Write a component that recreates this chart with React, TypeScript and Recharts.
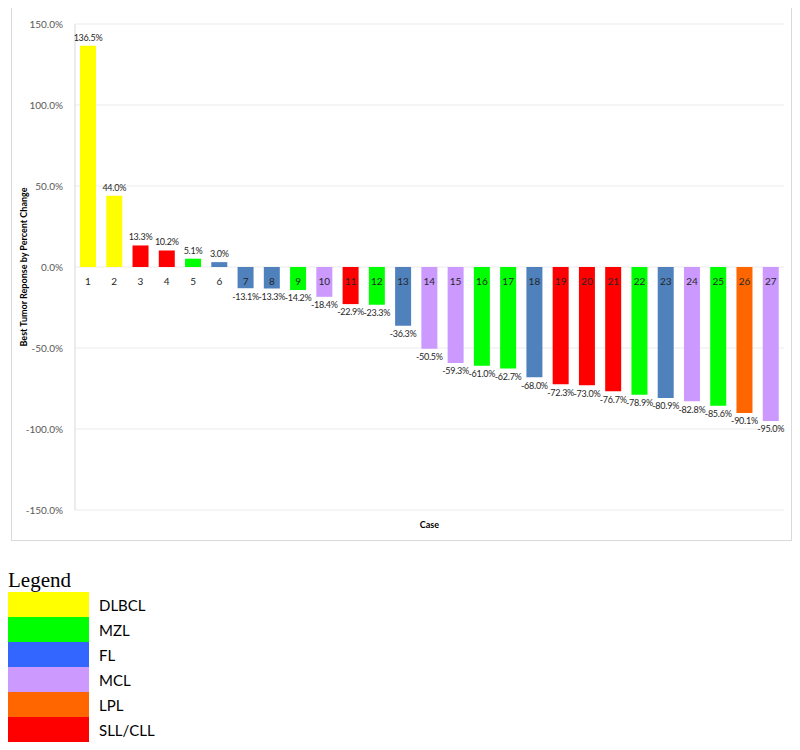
import React from 'react';
import { BarChart, Bar, XAxis, YAxis, CartesianGrid, LabelList, Cell, Label } from 'recharts';

const cases = ['1','2','3','4','5','6','7','8','9','10','11','12','13','14','15','16','17','18','19','20','21','22','23','24','25','26','27'];
const responses = [136.5, 44.0, 13.3, 10.2, 5.1, 3.0, -13.1, -13.3, -14.2, -18.4, -22.9, -23.3, -36.3, -50.5, -59.3, -61.0, -62.7, -68.0, -72.3, -73.0, -76.7, -78.9, -80.9, -82.8, -85.6, -90.1, -95.0];
const types = ['DLBCL','DLBCL','SLL/CLL','SLL/CLL','MZL','FL','FL','FL','MZL','MCL','SLL/CLL','MZL','FL','MCL','MCL','MZL','MZL','FL','SLL/CLL','SLL/CLL','SLL/CLL','MZL','FL','MCL','MZL','LPL','MCL'];
const yTicks = [150, 100, 50, 0, -50, -100, -150];

const legendTypes = ['DLBCL','MZL','FL','MCL','LPL','SLL/CLL'];
const legendColors = ['#FFFF00','#00FF00','#3366FF','#CC99FF','#FF6600','#FF0000'];
const barColors: Record<string, string> = {
  'DLBCL': '#FFFF00',
  'MZL': '#00FF00',
  'FL': '#4F81BD',
  'MCL': '#CC99FF',
  'LPL': '#FF6600',
  'SLL/CLL': '#FF0000',
};

const data = cases.map((c, i) => ({ case: c, value: responses[i], type: types[i] }));

const FONT = 'Lato, "Open Sans", sans-serif';

const CaseLabel = (props: any) => {
  const vb = props.viewBox || props;
  const { x, y, width, height } = vb;
  const idx = props.index;
  const v = responses[idx];
  const top = Math.min(y, y + height);
  const bottom = Math.max(y, y + height);
  const zero = v >= 0 ? bottom : top;
  return (
    <text x={x + width / 2} y={zero} dy={15} textAnchor="middle" dominantBaseline="middle"
      fontSize={10} fontFamily={FONT} fill="#262626">
      {cases[idx]}
    </text>
  );
};

const YTitle = (props: any) => {
  const vb = props.viewBox;
  const cx = vb.x + 13;
  const cy = vb.y + vb.height / 2;
  return (
    <text x={cx} y={cy} transform={`rotate(-90, ${cx}, ${cy})`} textAnchor="middle" dominantBaseline="middle"
      fontSize={9} fontWeight="bold" fontFamily={FONT} fill="#000">
      Best Tumor Reponse by Percent Change
    </text>
  );
};

export default function App() {
  return (
    <div style={{ position: 'relative', width: 800, height: 750, fontFamily: FONT }}>
      <div style={{ position: 'absolute', left: 3, top: -1, width: 781, height: 534, boxSizing: 'border-box', border: '1px solid #d9d9d9', background: '#fff' }}>
        <BarChart width={779} height={532} data={data} margin={{ top: 16, right: 7, left: 0, bottom: 0 }}>
          <CartesianGrid vertical={false} stroke="#ebebeb" />
          <XAxis dataKey="case" tick={false} axisLine={false} tickLine={false} height={30}>
            <Label value="Case" position="center" fontSize={9} fontWeight="bold" fontFamily={FONT} fill="#000" />
          </XAxis>
          <YAxis
            domain={[-150, 150]}
            ticks={yTicks}
            width={63}
            axisLine={{ stroke: '#d9d9d9' }}
            tickLine={false}
            tickMargin={6}
            tick={{ fontSize: 10, fill: '#595959', fontFamily: FONT }}
            tickFormatter={(v: number) => `${v.toFixed(1)}%`}
          >
            <Label content={<YTitle />} />
          </YAxis>
          <Bar dataKey="value" barSize={16} isAnimationActive={false}>
            {data.map((d, i) => (
              <Cell key={i} fill={barColors[d.type]} />
            ))}
            <LabelList dataKey="value" position="top" offset={5} fontSize={9} letterSpacing={-0.25} fontFamily={FONT} fill="#262626"
              formatter={(v: any) => `${Number(v).toFixed(1)}%`} />
            <LabelList dataKey="value" content={<CaseLabel />} />
          </Bar>
        </BarChart>
      </div>
      <div style={{ position: 'absolute', left: 0, top: 560, fontFamily: '"Liberation Serif", "Times New Roman", serif', fontSize: 21, lineHeight: '24px', color: '#000' }}>
        Legend
      </div>
      <div style={{ position: 'absolute', left: -1, top: 584 }}>
        {legendTypes.map((t, i) => (
          <div key={t} style={{ display: 'flex', alignItems: 'center', height: 25 }}>
            <div style={{ width: 82, height: 25, background: legendColors[i] }} />
            <div style={{ marginLeft: 10, fontSize: 15, fontFamily: FONT, color: '#000' }}>{t}</div>
          </div>
        ))}
      </div>
    </div>
  );
}
